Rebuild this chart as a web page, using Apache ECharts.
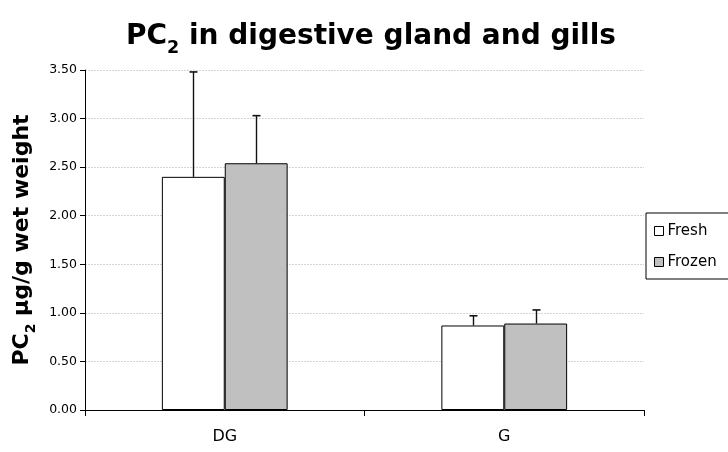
<!DOCTYPE html>
<html>
<head>
<meta charset="utf-8">
<script src="https://cdn.jsdelivr.net/npm/echarts@6/dist/echarts.min.js"></script>
<style>
html,body{margin:0;padding:0;background:#fff;}
#main{width:728px;height:452px;}
</style>
</head>
<body>
<div id="main"></div>
<script>
var categories = ['DG', 'G'];
var seriesNames = ['Fresh', 'Frozen'];
var freshValues = [2.40, 0.87];
var frozenValues = [2.54, 0.89];
var freshErrTop = [3.48, 0.97];
var frozenErrTop = [3.03, 1.03];
var yTicks = ['0.00','0.50','1.00','1.50','2.00','2.50','3.00','3.50'];

var FONT = 'DejaVu Sans';
var GAP = 0.55;
function errSeries(name, tops, side) {
  return {
    type: 'custom',
    name: name + ' err',
    z: 5,
    silent: true,
    data: tops.map(function (v, i) { return [i, v]; }),
    renderItem: function (params, api) {
      var catW = api.size([1, 0])[0];
      var bw = catW * (1 - GAP) / 2;
      var idx = api.value(0);
      var base = api.coord([idx, side === 0 ? freshValues[idx] : frozenValues[idx]]);
      var top = api.coord([idx, api.value(1)]);
      var x = Math.round(base[0] + (side === 0 ? -bw / 2 : bw / 2)) + 0.5;
      var cap = 4;
      return {
        type: 'group',
        children: [
          {type: 'line', shape: {x1: x, y1: base[1], x2: x, y2: top[1]}, style: {stroke: '#111', lineWidth: 1.4}},
          {type: 'line', shape: {x1: x - cap, y1: top[1], x2: x + cap, y2: top[1]}, style: {stroke: '#111', lineWidth: 1.6}}
        ]
      };
    }
  };
}

var chart = echarts.init(document.getElementById('main'), null, {renderer: 'canvas'});
chart.setOption({
  backgroundColor: '#fff',
  animation: false,
  textStyle: {fontFamily: FONT},
  title: {
    text: '{a|PC}{b|2}{a| in digestive gland and gills}',
    left: 366, top: 14, textAlign: 'center',
    textStyle: {
      rich: {
        a: {fontSize: 28, fontWeight: 'bold', color: '#000', fontFamily: FONT, verticalAlign: 'bottom', lineHeight: 32},
        b: {fontSize: 17.5, fontWeight: 'bold', color: '#000', fontFamily: FONT, verticalAlign: 'bottom', lineHeight: 24, padding: [0,0,-6,0]}
      }
    }
  },
  legend: {
    orient: 'vertical',
    left: 646, top: 213,
    padding: [9, 14, 8, 8],
    itemGap: 13,
    itemWidth: 9, itemHeight: 9,
    borderColor: '#000', borderWidth: 1,
    data: seriesNames,
    icon: 'rect',
    itemStyle: {borderColor: '#000', borderWidth: 1},
    textStyle: {fontSize: 15, color: '#000', fontFamily: FONT, lineHeight: 18, padding: [0,0,0,-1]}
  },
  grid: {left: 85, right: 84, top: 70, bottom: 42},
  xAxis: {
    type: 'category',
    data: categories,
    axisLine: {lineStyle: {color: '#000', width: 1}},
    axisTick: {show: true, length: 6, lineStyle: {color: '#000'}},
    axisLabel: {fontSize: 16, color: '#000', margin: 19, fontFamily: FONT}
  },
  yAxis: {
    type: 'value',
    min: 0, max: 3.5, interval: 0.5,
    name: '{a|PC}{b|2}{a| µg/g wet weight}',
    nameLocation: 'middle', nameRotate: 90, nameGap: 52,
    nameTextStyle: {
      rich: {
        a: {fontSize: 22, fontWeight: 'bold', color: '#000', fontFamily: FONT, verticalAlign: 'bottom', lineHeight: 26},
        b: {fontSize: 14, fontWeight: 'bold', color: '#000', fontFamily: FONT, verticalAlign: 'bottom', lineHeight: 19, padding: [0,0,-5,0]}
      }
    },
    axisLine: {show: true, lineStyle: {color: '#000', width: 1}},
    axisTick: {show: true, length: 5, lineStyle: {color: '#000'}},
    axisLabel: {fontSize: 12.5, color: '#000', margin: 8, fontFamily: FONT,
      formatter: function (v) { return yTicks[Math.round(v / 0.5)]; }},
    splitLine: {lineStyle: {color: '#d4d4d4', width: 1, type: [2, 1]}}
  },
  series: [
    {name: seriesNames[0], type: 'bar', data: freshValues, barCategoryGap: '55%', barGap: '0%',
     itemStyle: {color: '#ffffff', borderColor: '#000', borderWidth: 1}},
    {name: seriesNames[1], type: 'bar', data: frozenValues, barCategoryGap: '55%', barGap: '0%',
     itemStyle: {color: '#c0c0c0', borderColor: '#000', borderWidth: 1}},
    errSeries(seriesNames[0], freshErrTop, 0),
    errSeries(seriesNames[1], frozenErrTop, 1)
  ]
});
</script>
</body>
</html>
